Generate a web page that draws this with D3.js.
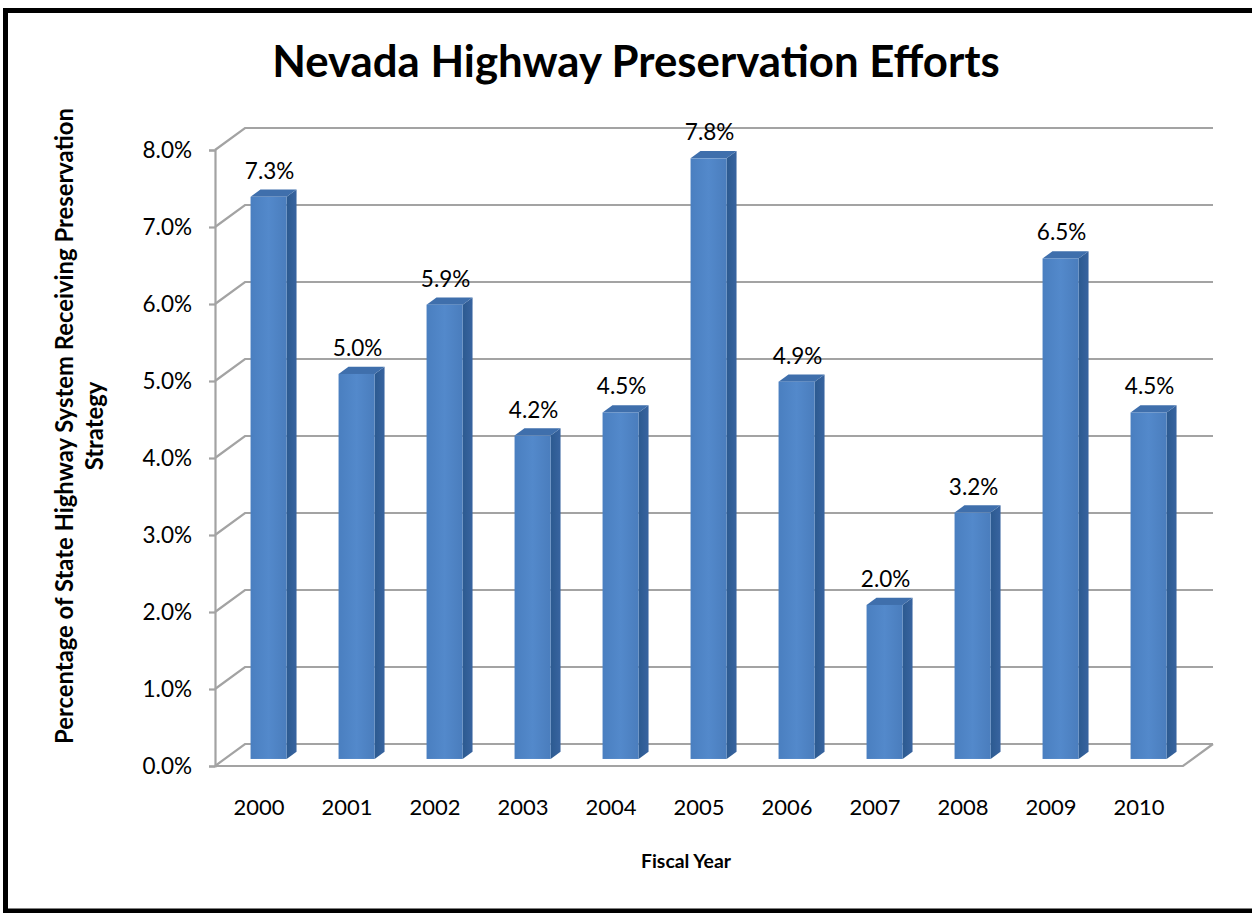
<!DOCTYPE html>
<html>
<head>
<meta charset="utf-8">
<script src="https://cdn.jsdelivr.net/npm/d3@7"></script>
<style>
  html, body { margin: 0; padding: 0; background: #ffffff; }
  svg { display: block; }
  text { font-family: "Lato", "Open Sans", "Liberation Sans", sans-serif; fill: #000; }
</style>
</head>
<body>
<svg id="chart" width="1252" height="913"></svg>
<script>
// Share of the state highway system receiving a preservation strategy, by fiscal year
const years = ["2000", "2001", "2002", "2003", "2004", "2005", "2006", "2007", "2008", "2009", "2010"];
const shares = [7.3, 5.0, 5.9, 4.2, 4.5, 7.8, 4.9, 2.0, 3.2, 6.5, 4.5];
const yTicks = [0, 1, 2, 3, 4, 5, 6, 7, 8];

const titleText = "Nevada Highway Preservation Efforts";
const yTitleLines = ["Percentage of State Highway System Receiving Preservation", "Strategy"];
const xTitleText = "Fiscal Year";

const svg = d3.select("#chart");

// Plot frame: front plane plus a receding depth offset for the 3-D walls
const front = { left: 215, right: 1183, bottom: 766, top: 150 };
const DX = 30, DY = -22;          // depth offset of the back wall
const Z0 = 0.32, Z1 = 0.65;       // bar depth span (fraction of wall depth)

const x = d3.scaleBand()
  .domain(years)
  .range([front.left, front.right])
  .paddingInner(0.59)
  .paddingOuter(0.295);

const y = d3.scaleLinear().domain([0, 8]).range([front.bottom, front.top]);
const yAt = (v, z) => y(v) + z * DY;

// Outer frame
svg.append("rect")
  .attr("x", 5.5).attr("y", 10.5)
  .attr("width", 1262).attr("height", 900.5)
  .attr("fill", "#fff")
  .attr("stroke", "#000")
  .attr("stroke-width", 5);

const grid = svg.append("g")
  .attr("fill", "none")
  .attr("stroke", "#a3a3a3")
  .attr("stroke-width", 2.2);

// Back-wall gridlines, each joined to the front axis by a side-wall diagonal
yTicks.forEach(t => {
  const yf = y(t);
  grid.append("path")
    .attr("d", d3.line()([
      [front.left, yf],
      [front.left + DX, yf + DY],
      [front.right + DX, yf + DY]
    ]));
});

// Floor outline
grid.append("path")
  .attr("d", d3.line()([
    [front.left, y(0)],
    [front.right, y(0)],
    [front.right + DX, y(0) + DY]
  ]));

// Vertical value axis with outward ticks
const yAxis = d3.axisLeft(y)
  .tickValues(yTicks)
  .tickSize(6)
  .tickPadding(17)
  .tickFormat(d => d3.format(".1f")(d) + "%");

const gy = svg.append("g")
  .attr("transform", `translate(${front.left},0)`)
  .call(yAxis);
gy.select(".domain").attr("stroke", "#a3a3a3").attr("stroke-width", 2.2);
gy.selectAll(".tick line").attr("stroke", "#a3a3a3").attr("stroke-width", 2.2);
gy.selectAll(".tick text")
  .attr("font-size", 22.5)
  .style("font-family", '"Lato", "Open Sans", sans-serif')
  .attr("fill", "#000");

// Bar shading
const defs = svg.append("defs");
const fg = defs.append("linearGradient").attr("id", "frontGrad")
  .attr("x1", "0").attr("x2", "1").attr("y1", "0").attr("y2", "0");
fg.append("stop").attr("offset", "0").attr("stop-color", "#4a7fc0");
fg.append("stop").attr("offset", "0.5").attr("stop-color", "#5389cb");
fg.append("stop").attr("offset", "1").attr("stop-color", "#4a7dbd");

const sg = defs.append("linearGradient").attr("id", "sideGrad")
  .attr("x1", "0").attr("x2", "1").attr("y1", "0").attr("y2", "0");
sg.append("stop").attr("offset", "0").attr("stop-color", "#2c5a90");
sg.append("stop").attr("offset", "1").attr("stop-color", "#3864a0");

const bars = svg.append("g");
const depthX = (Z1 - Z0) * DX;
const bw = x.bandwidth();

years.forEach((yr, i) => {
  const v = shares[i];
  const xf = x(yr) + Z0 * DX;
  const t0 = yAt(v, Z0), b0 = yAt(0, Z0);
  const t1 = yAt(v, Z1), b1 = yAt(0, Z1);
  const g = bars.append("g");

  // side face
  g.append("path")
    .attr("d", d3.line()([
      [xf + bw, t0], [xf + bw + depthX, t1], [xf + bw + depthX, b1], [xf + bw, b0]
    ]) + "Z")
    .attr("fill", "url(#sideGrad)");

  // top face
  g.append("path")
    .attr("d", d3.line()([
      [xf, t0], [xf + bw, t0], [xf + bw + depthX, t1], [xf + depthX, t1]
    ]) + "Z")
    .attr("fill", "#3f6fac");

  // front face
  g.append("rect")
    .attr("x", xf).attr("y", t0)
    .attr("width", bw).attr("height", b0 - t0)
    .attr("fill", "url(#frontGrad)");

  // value label
  svg.append("text")
    .attr("x", xf + bw / 2 + 1)
    .attr("y", t0 - 18)
    .attr("text-anchor", "middle")
    .attr("font-size", 22.5)
    .text(d3.format(".1f")(v) + "%");
});

// Category labels under the front floor edge
years.forEach(yr => {
  svg.append("text")
    .attr("x", x(yr) + bw / 2)
    .attr("y", 815)
    .attr("text-anchor", "middle")
    .attr("font-size", 22)
    .text(yr);
});

// Fit a text element to a target width by scaling its font size
function fitWidth(sel, target) {
  const base = +sel.attr("font-size");
  const w = sel.node().getComputedTextLength();
  if (w > 0) sel.attr("font-size", base * target / w);
}

const title = svg.append("text")
  .attr("x", 636).attr("y", 77)
  .attr("text-anchor", "middle")
  .attr("font-weight", "bold")
  .attr("font-size", 40)
  .text(titleText);
fitWidth(title, 728);

const xTitle = svg.append("text")
  .attr("x", 686).attr("y", 868)
  .attr("text-anchor", "middle")
  .attr("font-weight", "bold")
  .attr("font-size", 18)
  .text(xTitleText);
fitWidth(xTitle, 90);

const yTitle = svg.append("g").attr("transform", "translate(0,426) rotate(-90)");
const l1 = yTitle.append("text")
  .attr("x", 0).attr("y", 73)
  .attr("text-anchor", "middle")
  .attr("font-weight", "bold")
  .attr("font-size", 19)
  .text(yTitleLines[0]);
fitWidth(l1, 636);
yTitle.append("text")
  .attr("x", 0).attr("y", 103)
  .attr("text-anchor", "middle")
  .attr("font-weight", "bold")
  .attr("font-size", +l1.attr("font-size"))
  .text(yTitleLines[1]);
</script>
</body>
</html>
